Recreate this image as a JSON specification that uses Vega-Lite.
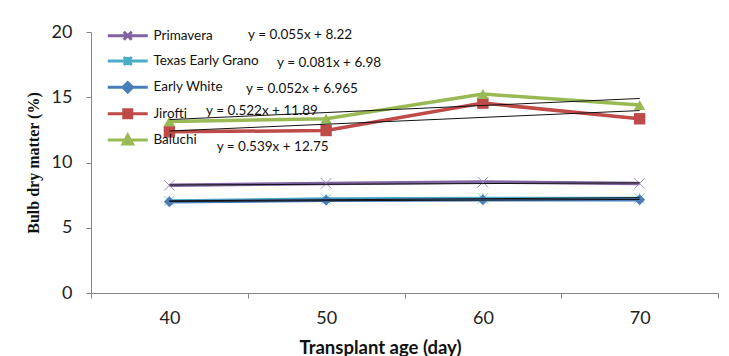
{
  "$schema": "https://vega.github.io/schema/vega-lite/v6.json",
  "width": 627,
  "height": 261,
  "autosize": {"type": "none"},
  "padding": {"left": 91, "top": 32, "right": 11, "bottom": 63},
  "background": "white",
  "config": {"view": {"stroke": null}, "font": "Lato"},
  "datasets": {
    "obs": [
      {"series": "Primavera", "day": 40, "value": 8.25, "trend": 8.275},
      {"series": "Primavera", "day": 50, "value": 8.4, "trend": 8.33},
      {"series": "Primavera", "day": 60, "value": 8.5, "trend": 8.385},
      {"series": "Primavera", "day": 70, "value": 8.4, "trend": 8.44},
      {"series": "Texas Early Grano", "day": 40, "value": 7.05, "trend": 7.061},
      {"series": "Texas Early Grano", "day": 50, "value": 7.2, "trend": 7.142},
      {"series": "Texas Early Grano", "day": 60, "value": 7.25, "trend": 7.223},
      {"series": "Texas Early Grano", "day": 70, "value": 7.25, "trend": 7.304},
      {"series": "Early White", "day": 40, "value": 7.0, "trend": 7.017},
      {"series": "Early White", "day": 50, "value": 7.1, "trend": 7.069},
      {"series": "Early White", "day": 60, "value": 7.15, "trend": 7.121},
      {"series": "Early White", "day": 70, "value": 7.15, "trend": 7.173},
      {"series": "Jirofti", "day": 40, "value": 12.35, "trend": 12.412},
      {"series": "Jirofti", "day": 50, "value": 12.45, "trend": 12.934},
      {"series": "Jirofti", "day": 60, "value": 14.55, "trend": 13.456},
      {"series": "Jirofti", "day": 70, "value": 13.35, "trend": 13.978},
      {"series": "Baluchi", "day": 40, "value": 13.15, "trend": 13.289},
      {"series": "Baluchi", "day": 50, "value": 13.35, "trend": 13.828},
      {"series": "Baluchi", "day": 60, "value": 15.25, "trend": 14.367},
      {"series": "Baluchi", "day": 70, "value": 14.4, "trend": 14.906}
    ],
    "eq": [
      {"label": "y = 0.055x + 8.22", "ex": 45.02, "ey": 19.77},
      {"label": "y = 0.081x + 6.98", "ex": 46.87, "ey": 17.62},
      {"label": "y = 0.052x + 6.965", "ex": 44.89, "ey": 15.63},
      {"label": "y = 0.522x + 11.89", "ex": 42.34, "ey": 13.97},
      {"label": "y = 0.539x + 12.75", "ex": 43.02, "ey": 11.21}
    ]
  },
  "layer": [
    {
      "layer": [
        {
          "data": {"name": "obs"},
          "mark": {"type": "line", "strokeWidth": 3.5},
          "encoding": {
            "x": {
              "field": "day", "type": "ordinal",
              "scale": {"type": "band", "paddingInner": 0, "paddingOuter": 0},
              "axis": {
                "tickBand": "extent", "labelAngle": 0,
                "title": "Transplant age (day)",
                "domainColor": "#868686", "tickColor": "#868686", "tickSize": 5,
                "labelFontSize": 18, "labelColor": "#222", "labelPadding": 11,
                "labelFont": "Lato",
                "titleFont": "Lato", "titleFontSize": 18.5, "titleFontWeight": "bold",
                "titleColor": "#111", "titlePadding": 11,
                "titleX": 289, "titleAlign": "center"
              }
            },
            "y": {
              "field": "value", "type": "quantitative",
              "scale": {"domain": [0, 20], "nice": false},
              "axis": {
                "values": [0, 5, 10, 15, 20], "grid": false,
                "title": "Bulb dry matter (%)",
                "domainColor": "#868686", "tickColor": "#868686", "tickSize": 5,
                "labelFontSize": 18, "labelColor": "#222", "labelPadding": 14,
                "labelFont": "Lato",
                "titleFont": "Liberation Serif", "titleFontSize": 16, "titleFontWeight": "bold",
                "titleColor": "#111", "titlePadding": 10
              }
            },
            "color": {
              "field": "series", "type": "nominal",
              "sort": ["Primavera", "Texas Early Grano", "Early White", "Jirofti", "Baluchi"],
              "scale": {
                "domain": ["Primavera", "Texas Early Grano", "Early White", "Jirofti", "Baluchi"],
                "range": ["#8064a2", "#4bacc6", "#4a7ebb", "#be4b48", "#98b954"]
              },
              "legend": {
                "orient": "none", "legendX": 30, "legendY": -3, "title": null,
                "padding": 0,
                "labelFont": "Lato", "labelFontSize": 13.5, "labelColor": "#111",
                "symbolSize": 64, "labelOffset": 19, "rowPadding": 4.3,
                "encode": {
                  "symbols": {
                    "update": {
                      "shape": {"signal": "datum.value === 'Primavera' ? 'M-5,0L5,0M-1,-1L1,1M1,-1L-1,1' : datum.value === 'Texas Early Grano' ? 'M-5,0L5,0M-1,-1L1,1M1,-1L-1,1M0,-1L0,1' : datum.value === 'Early White' ? 'M-5,0L5,0M0,-1.2L1.2,0L0,1.2L-1.2,0Z' : datum.value === 'Jirofti' ? 'M-5,0L5,0M-1,-1L1,-1L1,1L-1,1Z' : 'M-5,0L5,0M0,-1.2L1.2,1L-1.2,1Z'"},
                      "fill": {"signal": "scale('color', datum.value)"},
                      "stroke": {"signal": "scale('color', datum.value)"},
                      "strokeWidth": {"value": 3},
                      "size": {"value": 64},
                      "opacity": {"value": 1},
                      "fillOpacity": {"value": 1}
                    }
                  }
                }
              }
            }
          }
        },
        {
          "data": {"name": "obs"},
          "transform": [{"filter": "datum.series === 'Primavera'"}],
          "mark": {"type": "point", "shape": "M-1,-1L1,1M1,-1L-1,1", "filled": false, "color": "#a08cc0", "size": 110, "strokeWidth": 1, "opacity": 1},
          "encoding": {
            "x": {"field": "day", "type": "ordinal"},
            "y": {"field": "value", "type": "quantitative"}
          }
        },
        {
          "data": {"name": "obs"},
          "transform": [{"filter": "datum.series === 'Texas Early Grano'"}],
          "mark": {"type": "point", "shape": "M-1,-1L1,1M1,-1L-1,1M0,-1L0,1", "filled": false, "color": "#7fcde0", "size": 110, "strokeWidth": 1, "opacity": 1},
          "encoding": {
            "x": {"field": "day", "type": "ordinal"},
            "y": {"field": "value", "type": "quantitative"}
          }
        },
        {
          "data": {"name": "obs"},
          "transform": [{"filter": "datum.series === 'Early White'"}],
          "mark": {"type": "point", "shape": "diamond", "filled": true, "color": "#4a7ebb", "size": 120, "opacity": 1},
          "encoding": {
            "x": {"field": "day", "type": "ordinal"},
            "y": {"field": "value", "type": "quantitative"}
          }
        },
        {
          "data": {"name": "obs"},
          "transform": [{"filter": "datum.series === 'Jirofti'"}],
          "mark": {"type": "point", "shape": "square", "filled": true, "color": "#be4b48", "size": 130, "opacity": 1},
          "encoding": {
            "x": {"field": "day", "type": "ordinal"},
            "y": {"field": "value", "type": "quantitative"}
          }
        },
        {
          "data": {"name": "obs"},
          "transform": [{"filter": "datum.series === 'Baluchi'"}],
          "mark": {"type": "point", "shape": "triangle-up", "filled": true, "color": "#98b954", "size": 130, "opacity": 1},
          "encoding": {
            "x": {"field": "day", "type": "ordinal"},
            "y": {"field": "value", "type": "quantitative"}
          }
        },
        {
          "data": {"name": "obs"},
          "mark": {"type": "line", "strokeWidth": 1, "color": "#111"},
          "encoding": {
            "x": {"field": "day", "type": "ordinal"},
            "y": {"field": "trend", "type": "quantitative"},
            "detail": {"field": "series", "type": "nominal"}
          }
        }
      ]
    },
    {
      "data": {"name": "eq"},
      "mark": {"type": "text", "align": "left", "baseline": "middle", "fontSize": 13.5, "font": "Lato", "color": "#111"},
      "encoding": {
        "x": {"field": "ex", "type": "quantitative", "scale": {"domain": [35, 75], "nice": false, "zero": false}, "axis": null},
        "y": {"field": "ey", "type": "quantitative"},
        "text": {"field": "label", "type": "nominal"}
      }
    }
  ],
  "resolve": {"scale": {"x": "independent"}}
}
